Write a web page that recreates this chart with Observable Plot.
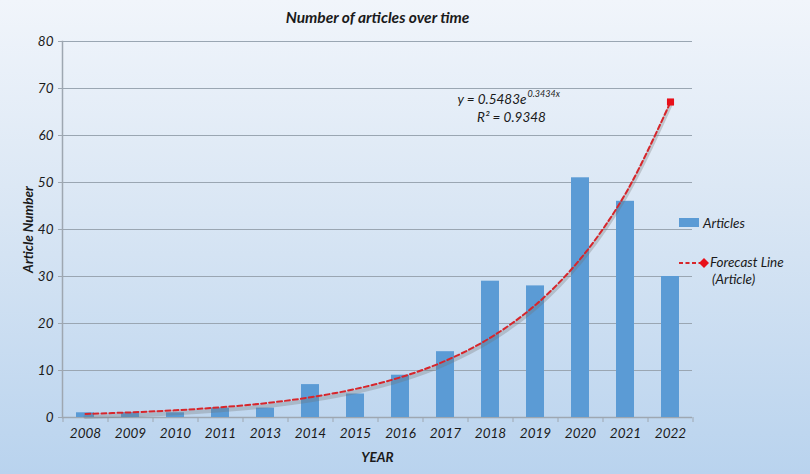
<!DOCTYPE html>
<html><head><meta charset="utf-8">
<script src="https://cdn.jsdelivr.net/npm/d3@7"></script>
<script src="https://cdn.jsdelivr.net/npm/@observablehq/plot@0.6"></script>
<style>
html,body{margin:0;padding:0;}
body{width:810px;height:474px;overflow:hidden;position:relative;
  background:linear-gradient(to bottom,#f1f5fb 0%,#d9e6f4 45%,#b9d3ee 100%);
  font-family:Lato,"Open Sans",sans-serif;}
#chart{position:absolute;left:0;top:0;}
.lg{position:absolute;font-style:italic;font-size:13.5px;line-height:16px;color:#1a1a1a;white-space:nowrap;}
</style></head><body>
<div id="chart"></div>
<div class="lg" style="left:679px;top:218px;width:20px;height:9px;background:#5b9bd5;"></div>
<div class="lg" style="left:703px;top:215px;">Articles</div>
<svg class="lg" style="left:676px;top:256px;" width="36" height="14">
  <line x1="3" y1="7" x2="24" y2="7" stroke="#d7262b" stroke-width="2" stroke-dasharray="4,2.5"/>
  <path d="M28,2 L33,7 L28,12 L23,7 Z" fill="#e8101a"/>
</svg>
<div class="lg" style="left:710px;top:254px;">Forecast Line</div>
<div class="lg" style="left:712px;top:271px;">(Article)</div>
<script>
const years = ["2008","2009","2010","2011","2013","2014","2015","2016","2017","2018","2019","2020","2021","2022"];
const articles = [1,1,1,2,2,7,5,9,14,29,28,51,46,30];
const forecast = [0.77,1.09,1.54,2.17,3.05,4.30,6.07,8.55,12.06,17.0,23.95,33.78,47.62,67.13];
const yTicks = [0,10,20,30,40,50,60,70,80];

const data = years.map((year,i)=>({year, articles:articles[i], forecast:forecast[i]}));
const axisColor = "#9ea7b1";

const chart = Plot.plot({
  width:810, height:474,
  marginLeft:62, marginRight:118, marginTop:41, marginBottom:57,
  style:{background:"transparent", fontFamily:"Lato, 'Open Sans', sans-serif", fontStyle:"italic", fontSize:"13.5px", color:"#1a1a1a"},
  x:{type:"band", domain:years, paddingInner:0.6, paddingOuter:0.3, label:null},
  y:{domain:[0,80], label:null},
  marks:[
    Plot.gridY(yTicks, {stroke:"#9aa6b2", strokeOpacity:1, strokeWidth:1}),
    Plot.frame({anchor:"left", stroke:axisColor, strokeWidth:1.5}),
    Plot.ruleY([0], {stroke:axisColor, strokeWidth:1.5}),
    Plot.ruleX(years, {x:d=>d, dx:-22.5, insetTop:376, insetBottom:-5, stroke:axisColor}),
    Plot.ruleX([years[years.length-1]], {x:d=>d, dx:22.5, insetTop:376, insetBottom:-5, stroke:axisColor}),
    Plot.barY(data, {x:"year", y:"articles", fill:"#5b9bd5"}),
    Plot.line(data, {x:"year", y:"forecast", curve:"catmull-rom", stroke:"#6f6f6f", strokeOpacity:0.3, strokeWidth:4, dy:3}),
    Plot.line(data, {x:"year", y:"forecast", curve:"catmull-rom", stroke:"#d7262b", strokeWidth:2, strokeDasharray:"5,3"}),
    Plot.dot([data[data.length-1]], {x:"year", y:"forecast", symbol:"square", r:4, fill:"#e8101a"}),
    Plot.axisY(yTicks, {tickSize:4, tickPadding:5, stroke:axisColor, label:null}),
    Plot.axisX({tickSize:0, tickPadding:11, label:null}),
    Plot.text(["Article Number"], {frameAnchor:"left", rotate:-90, dx:-34, fontWeight:"bold", fontSize:13.5, lineAnchor:"middle", textAnchor:"middle"}),
    Plot.text(["YEAR"], {frameAnchor:"bottom", dy:40, fontWeight:"bold", fontSize:13.5, lineAnchor:"middle"}),
    Plot.text(["Number of articles over time"], {frameAnchor:"top", dy:-23, fontWeight:"bold", fontSize:15.5, lineAnchor:"middle"}),
    Plot.text(["y = 0.5483e"], {frameAnchor:"top-left", dx:464, dy:58, textAnchor:"end", lineAnchor:"middle", fontSize:13.5}),
    Plot.text(["0.3434x"], {frameAnchor:"top-left", dx:465, dy:53, textAnchor:"start", lineAnchor:"middle", fontSize:9}),
    Plot.text(["R² = 0.9348"], {frameAnchor:"top-left", dx:449, dy:76, textAnchor:"middle", lineAnchor:"middle", fontSize:13.5})
  ]
});
document.getElementById("chart").appendChild(chart);
</script>
</body></html>
